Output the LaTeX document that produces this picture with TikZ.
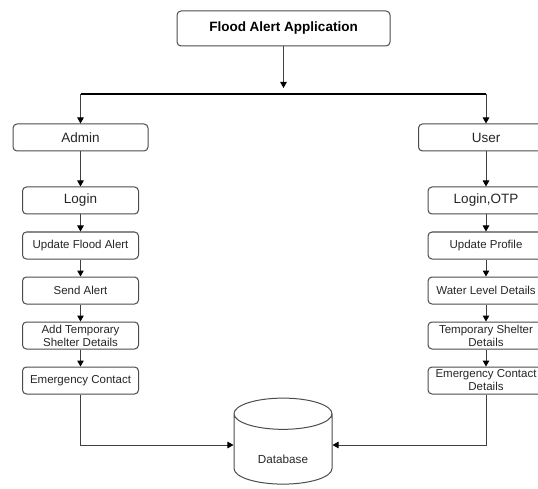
\documentclass[tikz,border=0pt]{standalone}
\usepackage{fontspec}
\setmainfont{Liberation Sans}
\usetikzlibrary{
  shapes.geometric,
  arrows.meta,
  positioning
}

\tikzset{
  box/.style={draw=black!70, line width=1pt, rounded corners=4pt, fill=white,
    text=black!85, align=center, inner xsep=2pt, inner ysep=0pt,
    minimum width=116pt, minimum height=27pt,
    font=\fontsize{11.5pt}{13pt}\selectfont},
  bigbox/.style={box, font=\fontsize{13.5pt}{15pt}\selectfont},
  link/.style={draw=black!75, line width=1pt,
    -{Triangle[length=6pt, width=6.5pt, color=black]}}
}

\begin{document}
\begin{tikzpicture}[x=1pt, y=1pt, node distance=17pt]
    \useasboundingbox (0,0) rectangle (538,-489);
    \clip (0,0) rectangle (538,-489);

    \node[box, minimum width=213pt, minimum height=35pt, text=black,
      font=\fontsize{13.5pt}{15pt}\selectfont\bfseries] (app) at (283.5,-28.5) {Flood Alert Application};
    \node[bigbox, minimum width=135pt] (admin) at (80.5,-137.5) {Admin};
    \node[bigbox, minimum width=135pt] (user) at (486,-137.5) {User};

    \node[bigbox, below = 35pt of admin] (a1) {Login};
    \node[box, below = of a1] (a2) {Update Flood Alert};
    \node[box, below = of a2] (a3) {Send Alert};
    \node[box, below = of a3] (a4) {Add Temporary\\Shelter Details};
    \node[box, below = of a4] (a5) {Emergency Contact};

    \node[bigbox, below = 35pt of user] (u1) {Login,OTP};
    \node[box, below = of u1] (u2) {Update Profile};
    \node[box, below = of u2] (u3) {Water Level Details};
    \node[box, below = of u3] (u4) {Temporary Shelter\\Details};
    \node[box, below = of u4] (u5) {Emergency Contact\\Details};

    \node[draw=black!70, line width=1pt, cylinder, shape border rotate=90,
      aspect=0.55, minimum width=98pt, minimum height=86pt, text height=24pt,
      text=black!85, font=\fontsize{11.7pt}{13pt}\selectfont] (db) at (283,-452) {Database};

    \coordinate (hub) at (283.5,-88);
    \coordinate (bar) at (283.5,-94);

    \draw[link] (app) -- (hub);
    \draw[line width=1.6pt] (bar -| admin) -- (bar -| user);
    \draw[link] (bar -| admin) -- (admin);
    \draw[link] (bar -| user) -- (user);

    \draw[link] (admin) -- (a1);
    \draw[link] (a1) -- (a2);
    \draw[link] (a2) -- (a3);
    \draw[link] (a3) -- (a4);
    \draw[link] (a4) -- (a5);

    \draw[link] (user) -- (u1);
    \draw[link] (u1) -- (u2);
    \draw[link] (u2) -- (u3);
    \draw[link] (u3) -- (u4);
    \draw[link] (u4) -- (u5);

    \draw[link] (a5) |- ([yshift=7pt]db.west);
    \draw[link] (u5) |- ([yshift=7pt]db.east);
\end{tikzpicture}
\end{document}
